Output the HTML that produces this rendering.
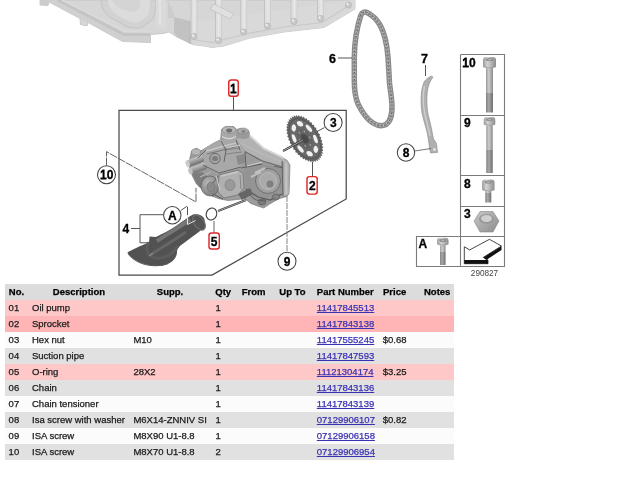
<!DOCTYPE html>
<html><head><meta charset="utf-8"><style>
*{margin:0;padding:0;box-sizing:border-box}
html,body{width:640px;height:480px;background:#fff;overflow:hidden}
body{will-change:transform}
body{position:relative;font-family:"Liberation Sans",sans-serif;font-size:9.5px;color:#1a1a1a;-webkit-text-stroke:0.25px currentColor}
#dg{position:absolute;left:0;top:0}
#dg text{stroke:#000;stroke-width:0.3px}
#dg text.nt{stroke:none}
.r{position:absolute;left:5px;width:449px;height:16px;line-height:16px;white-space:nowrap}
.r span{position:absolute;top:0}
.h{font-weight:bold;color:#000}
.p1{background:#ffc8c8}.p2{background:#ffb5b5}.w{background:#fbfbfb}.g{background:#e1e1e1}.hd{background:#dcdcdc}
a{color:#3a32b4;text-decoration:underline}
.c1{left:3.6px}.c2{left:27px}.c3{left:128.4px}.c4{left:210.5px}.c7{left:311.8px}.c8{left:377.8px}
</style></head><body>
<svg id="dg" width="640" height="282" viewBox="0 0 640 282">
<defs>
<linearGradient id="panG" x1="0" y1="0" x2="0" y2="1"><stop offset="0" stop-color="#d2d2d2"/><stop offset="1" stop-color="#dadada"/></linearGradient>
<linearGradient id="pipeG" x1="0" y1="0" x2="1" y2="1"><stop offset="0" stop-color="#6a6a6a"/><stop offset="0.5" stop-color="#4e4e4e"/><stop offset="1" stop-color="#3c3c3c"/></linearGradient>
<linearGradient id="bodyG" x1="0" y1="0" x2="1" y2="1"><stop offset="0" stop-color="#a8a8a8"/><stop offset="0.5" stop-color="#8a8a8a"/><stop offset="1" stop-color="#6e6e6e"/></linearGradient>
<linearGradient id="boltG" x1="0" y1="0" x2="1" y2="0"><stop offset="0" stop-color="#9a9a9a"/><stop offset="0.4" stop-color="#cecece"/><stop offset="1" stop-color="#8a8a8a"/></linearGradient>
<linearGradient id="thrG" x1="0" y1="0" x2="1" y2="0"><stop offset="0" stop-color="#808080"/><stop offset="0.4" stop-color="#a8a8a8"/><stop offset="1" stop-color="#6e6e6e"/></linearGradient>
<linearGradient id="headG" x1="0" y1="0" x2="1" y2="0"><stop offset="0" stop-color="#9c9c9c"/><stop offset="0.35" stop-color="#d4d4d4"/><stop offset="1" stop-color="#8c8c8c"/></linearGradient>
<linearGradient id="nutG" x1="0" y1="0" x2="1" y2="1"><stop offset="0" stop-color="#c8c8c8"/><stop offset="1" stop-color="#8c8c8c"/></linearGradient>
</defs>
<!-- oil pan -->
<g id="pan">
<path d="M40,0 L40,5 L48,5.5 L49,2 L80,18.5 L80.5,24.5 L87,26 L88,22.5 L122.5,41.5 L150.5,42.5 L150.5,34.5 L163,33.5 L169,32 L177,37 L193,44.7 L204,46 L212,47.5 L224,46 L250,38 L284,32 L324,27.5 L355,9 L355,0 Z" fill="#d6d6d6" stroke="#c0c0c0" stroke-width="0.8"/>
<path d="M49,2 L80,18.5 L88,22.5 L122.5,41.5 L150.5,42.5 L150.5,35 L126,35 L60,0 Z" fill="#d0d0d0"/>
<path d="M58,0 L124,34.5 L150,34.5" fill="none" stroke="#c4c4c4" stroke-width="3"/>
<path d="M62,0 L124,31 L150,31" fill="none" stroke="#dadada" stroke-width="1.5"/>
<path d="M101,0 C101,9 106,15 113,19 L126,26 C131,28.5 139,29 144,26 L152,20 C155,16 156,8 156,0 Z" fill="#d2d2d2" stroke="#c4c4c4" stroke-width="1"/>
<path d="M108,0 C108,7 112,12 118,15.5 L128,21 C133,23 138,23 142,20.5 L147,16 C150,12 150,6 150,0 Z" fill="#dcdcdc"/>
<path d="M112,0 C114,5 118,8 124,10 L132,12 C136,12 139,9 140,5 L140,0 Z" fill="#d4d4d4"/>
<path d="M156,0 L156,28 L162,30 L166,26 L166,0 Z" fill="#dadada"/>
<path d="M160,0 L160,24" stroke="#e6e6e6" stroke-width="1.5"/>
<path d="M168,0 L174,14 L174,18 L168,18 Z" fill="#cccccc"/>
<path d="M174,17 L190,21 L191,44 L177,37 L174,33 Z" fill="#c2c2c2"/>
<path d="M190,21 L190,44" stroke="#b8b8b8" stroke-width="1"/>
<path d="M192,22 L352,0 L355,0 L355,9 L324,27.5 L284,32 L250,38 L224,46 L212,47.5 L204,46 L193,44.7 Z" fill="#d9d9d9"/>
<path d="M193,39.5 L212,42.5 L250,33 L284,27 L322,22.5 L350,5" fill="none" stroke="#c8c8c8" stroke-width="1.2"/>
<rect x="191" y="0" width="6" height="36" fill="#dfdfdf"/>
<path d="M191,0 L191,36" stroke="#c2c2c2" stroke-width="1"/>
<path d="M197,0 L197,36" stroke="#cbcbcb" stroke-width="0.8"/>
<path d="M194.3,0 L194.3,36" stroke="#e9e9e9" stroke-width="1.2"/>
<rect x="215.5" y="0" width="6" height="40" fill="#dfdfdf"/>
<path d="M215.5,0 L215.5,40" stroke="#c2c2c2" stroke-width="1"/>
<path d="M221.5,0 L221.5,40" stroke="#cbcbcb" stroke-width="0.8"/>
<path d="M218.8,0 L218.8,40" stroke="#e9e9e9" stroke-width="1.2"/>
<rect x="240.7" y="0" width="6" height="32" fill="#dfdfdf"/>
<path d="M240.7,0 L240.7,32" stroke="#c2c2c2" stroke-width="1"/>
<path d="M246.7,0 L246.7,32" stroke="#cbcbcb" stroke-width="0.8"/>
<path d="M244.0,0 L244.0,32" stroke="#e9e9e9" stroke-width="1.2"/>
<rect x="264.5" y="0" width="6" height="26" fill="#dfdfdf"/>
<path d="M264.5,0 L264.5,26" stroke="#c2c2c2" stroke-width="1"/>
<path d="M270.5,0 L270.5,26" stroke="#cbcbcb" stroke-width="0.8"/>
<path d="M267.8,0 L267.8,26" stroke="#e9e9e9" stroke-width="1.2"/>
<rect x="291" y="0" width="6" height="21.5" fill="#dfdfdf"/>
<path d="M291,0 L291,21.5" stroke="#c2c2c2" stroke-width="1"/>
<path d="M297,0 L297,21.5" stroke="#cbcbcb" stroke-width="0.8"/>
<path d="M294.3,0 L294.3,21.5" stroke="#e9e9e9" stroke-width="1.2"/>
<rect x="317.5" y="0" width="6" height="19" fill="#dfdfdf"/>
<path d="M317.5,0 L317.5,19" stroke="#c2c2c2" stroke-width="1"/>
<path d="M323.5,0 L323.5,19" stroke="#cbcbcb" stroke-width="0.8"/>
<path d="M320.8,0 L320.8,19" stroke="#e9e9e9" stroke-width="1.2"/>
<g fill="#cacaca" stroke="#b4b4b4" stroke-width="0.8"><circle cx="194" cy="36.5" r="3"/><circle cx="218.5" cy="40.5" r="3"/><circle cx="243.7" cy="32" r="3"/><circle cx="267.5" cy="26" r="3"/><circle cx="294" cy="21.5" r="3"/><circle cx="320.5" cy="18.5" r="3"/><circle cx="348.5" cy="5" r="3"/></g>
<g fill="#ececec"><circle cx="193" cy="35.5" r="1.2"/><circle cx="217.5" cy="39.5" r="1.2"/><circle cx="242.7" cy="31" r="1.2"/><circle cx="266.5" cy="25" r="1.2"/><circle cx="293" cy="20.5" r="1.2"/><circle cx="319.5" cy="17.5" r="1.2"/><circle cx="347.5" cy="4" r="1.2"/></g>
<path d="M210,9 L230,19 L234,14 L214,4 Z" fill="#e0e0e0" stroke="#c0c0c0" stroke-width="0.8"/>
<path d="M40,0 L40,5 L48,5.5 L49,0 Z" fill="#cccccc"/>
</g>
<!-- chain -->
<path d="M360.8,15.4 C362,12 365,11.5 367,12.5 C372,15 377,20 380,25 C384,32 387,45 388,57 L389.5,83 C390.5,92 392,100 392,106 C392,115 391,121 386,124.5 C382,126.5 377,125.5 373,123 C368,120 362,112 358,104 C355,97 354.3,88 354.3,80 L354.3,57 C354.5,45 356,30 360.8,15.4 Z" fill="none" stroke="#8a8a8a" stroke-width="5.5"/>
<path d="M360.8,15.4 C362,12 365,11.5 367,12.5 C372,15 377,20 380,25 C384,32 387,45 388,57 L389.5,83 C390.5,92 392,100 392,106 C392,115 391,121 386,124.5 C382,126.5 377,125.5 373,123 C368,120 362,112 358,104 C355,97 354.3,88 354.3,80 L354.3,57 C354.5,45 356,30 360.8,15.4 Z" fill="none" stroke="#b8b8b8" stroke-width="3" stroke-dasharray="2 1.6"/>
<path d="M360.8,15.4 C362,12 365,11.5 367,12.5 C372,15 377,20 380,25 C384,32 387,45 388,57 L389.5,83 C390.5,92 392,100 392,106 C392,115 391,121 386,124.5 C382,126.5 377,125.5 373,123 C368,120 362,112 358,104 C355,97 354.3,88 354.3,80 L354.3,57 C354.5,45 356,30 360.8,15.4 Z" fill="none" stroke="#555" stroke-width="1.2" stroke-dasharray="1 2.6"/>
<!-- label 6 -->
<text x="329" y="62.5" font-family="Liberation Sans" font-weight="bold" font-size="12.5" fill="#000">6</text>
<path d="M338,58 L352,58" stroke="#555" stroke-width="1"/>
<!-- tensioner 7 -->
<text x="421" y="63" font-family="Liberation Sans" font-weight="bold" font-size="12.5" fill="#000">7</text>
<path d="M425.5,65 L425.5,76" stroke="#555" stroke-width="1"/>
<path d="M424,82 C426,79 429,77 431.3,76.2 L433,77 C430,81 428.5,85 427.5,90 C426.8,95 426.8,101 427,106 C427.5,112 428.5,117 430,122 C431.5,128 432.5,134 433.5,139 L436.5,143.5 L437.5,152.5 L430.5,153 L429.5,148 C428.8,142 428,137 427,132 C425.5,126 423.5,120 422,113 C420.8,106 420.8,98 421.5,92 C422,88 423,85 424,82 Z" fill="#b0b0b0" stroke="#888" stroke-width="0.6"/>
<path d="M424.5,86 C423,94 423,104 424.5,112 C426,120 428.5,128 430,136" fill="none" stroke="#cdcdcd" stroke-width="1.4"/>
<circle cx="434.5" cy="149.5" r="1.3" fill="#eee"/>
<!-- circle 8 -->
<circle cx="406" cy="152.5" r="8.7" fill="#fff" stroke="#444" stroke-width="1.05"/>
<text x="406" y="156.8" text-anchor="middle" font-family="Liberation Sans" font-weight="bold" font-size="12" fill="#000">8</text>
<path d="M414.6,151 L431,148.5" stroke="#555" stroke-width="0.8"/>
<!-- right panel -->
<g fill="none" stroke="#7a7a7a" stroke-width="1.1">
<path d="M460.5,54.5 L504.5,54.5 L504.5,266.5 L416.5,266.5 L416.5,236.5 L504.5,236.5"/>
<path d="M460.5,54.5 L460.5,266.5"/>
<path d="M460.5,115.5 L504.5,115.5"/>
<path d="M460.5,175.5 L504.5,175.5"/>
<path d="M460.5,206.5 L504.5,206.5"/>
</g>
<g font-family="Liberation Sans" font-weight="bold" font-size="12" fill="#000">
<text x="462.3" y="66.5"><tspan font-weight="normal" stroke="#000" stroke-width="0.9">1</tspan>0</text>
<text x="464" y="127">9</text>
<text x="464" y="188">8</text>
<text x="464" y="218">3</text>
<text x="418.5" y="247.8">A</text>
</g>
<!-- screw 10 -->
<rect x="486.0" y="68" width="7" height="25" fill="url(#boltG)"/>
<rect x="486.0" y="93" width="7" height="19.5" fill="url(#thrG)"/>
<path d="M483.0,67 L483.0,60 Q483.0,57 486.0,57 L493.0,57 Q496.0,57 496.0,60 L496.0,67 Q489.5,70.5 483.0,67 Z" fill="url(#headG)"/>
<ellipse cx="489.5" cy="59.6" rx="3.9" ry="1.7" fill="#8e8e8e"/>
<ellipse cx="489.5" cy="59.6" rx="1.95" ry="0.9" fill="#b0b0b0"/>
<path d="M483.5,66.5 Q489.5,69.5 495.5,66.5" fill="none" stroke="#9a9a9a" stroke-width="0.8"/>
<!-- screw 9 -->
<rect x="486.25" y="125.5" width="6.5" height="24.5" fill="url(#boltG)"/>
<rect x="486.25" y="150" width="6.5" height="23" fill="url(#thrG)"/>
<path d="M483.75,124.5 L483.75,120 Q483.75,117 486.75,117 L492.25,117 Q495.25,117 495.25,120 L495.25,124.5 Q489.5,128.0 483.75,124.5 Z" fill="url(#headG)"/>
<ellipse cx="489.5" cy="119.6" rx="3.4499999999999997" ry="1.7" fill="#8e8e8e"/>
<ellipse cx="489.5" cy="119.6" rx="1.7249999999999999" ry="0.9" fill="#b0b0b0"/>
<path d="M484.25,124.0 Q489.5,127.0 494.75,124.0" fill="none" stroke="#9a9a9a" stroke-width="0.8"/>
<!-- screw 8 -->
<rect x="485.3" y="191.0" width="6" height="2.0" fill="url(#boltG)"/>
<rect x="485.3" y="193" width="6" height="9.5" fill="url(#thrG)"/>
<path d="M482.05,190.0 L482.05,182.5 Q482.05,179.5 485.05,179.5 L491.55,179.5 Q494.55,179.5 494.55,182.5 L494.55,190.0 Q488.3,193.5 482.05,190.0 Z" fill="url(#headG)"/>
<ellipse cx="488.3" cy="182.1" rx="3.75" ry="1.7" fill="#8e8e8e"/>
<ellipse cx="488.3" cy="182.1" rx="1.875" ry="0.9" fill="#b0b0b0"/>
<path d="M482.55,189.5 Q488.3,192.5 494.05,189.5" fill="none" stroke="#9a9a9a" stroke-width="0.8"/>
<!-- nut 3 -->
<path d="M474,221 L480,211.5 L493,211.5 L499,221 L493,232 L480,232 Z" fill="url(#nutG)" stroke="#888" stroke-width="0.6"/>
<ellipse cx="486.5" cy="219" rx="7.5" ry="5" fill="#9a9a9a"/>
<ellipse cx="486.5" cy="218.5" rx="5.5" ry="3.5" fill="#cfcfcf"/>
<!-- screw A -->
<rect x="440.05" y="245.3" width="5.5" height="6.699999999999989" fill="url(#boltG)"/>
<rect x="440.05" y="252" width="5.5" height="13" fill="url(#thrG)"/>
<path d="M437.05,244.3 L437.05,240.8 Q437.05,237.8 440.05,237.8 L445.55,237.8 Q448.55,237.8 448.55,240.8 L448.55,244.3 Q442.8,247.8 437.05,244.3 Z" fill="url(#headG)"/>
<ellipse cx="442.8" cy="240.4" rx="3.4499999999999997" ry="1.7" fill="#8e8e8e"/>
<ellipse cx="442.8" cy="240.4" rx="1.7249999999999999" ry="0.9" fill="#b0b0b0"/>
<path d="M437.55,243.8 Q442.8,246.8 448.05,243.8" fill="none" stroke="#9a9a9a" stroke-width="0.8"/>
<!-- arrow symbol -->
<path d="M464.3,246.8 L469.7,249.9 L489.5,239.3 L501.4,246 L483.5,257.3 L488,260.1 L488,263.7 L464.3,263.7 Z" fill="#fff" stroke="#333" stroke-width="0.9"/>
<path d="M483.3,257.4 L501.5,246.2 L501.5,250 L486.3,259.9 Z" fill="#111"/>
<path d="M464.3,260 L488,260 L488,263.8 L464.3,263.8 Z" fill="#111"/>
<text class="nt" x="484.5" y="276" text-anchor="middle" font-family="Liberation Sans" font-size="8.2" fill="#444">290827</text>
<!-- main box -->
<path d="M119,110.3 L346.2,110.3 L346.2,199 L212,275.1 L119,275.1 Z" fill="none" stroke="#4a4a4a" stroke-width="1.25"/>
<!-- pump -->
<g id="pump">
<defs>
<linearGradient id="cylG" x1="0" y1="0" x2="0" y2="1"><stop offset="0" stop-color="#c4c4c4"/><stop offset="0.5" stop-color="#9c9c9c"/><stop offset="1" stop-color="#6e6e6e"/></linearGradient>
<linearGradient id="flG" x1="0" y1="0" x2="1" y2="0"><stop offset="0" stop-color="#8a8a8a"/><stop offset="0.5" stop-color="#c8c8c8"/><stop offset="1" stop-color="#9a9a9a"/></linearGradient>
<radialGradient id="hsG" cx="0.4" cy="0.35" r="0.7"><stop offset="0" stop-color="#b8b8b8"/><stop offset="1" stop-color="#7c7c7c"/></radialGradient>
</defs>
<path d="M221.5,129.4 L225.3,126.6 L233.7,126.6 L236.5,129.4 L241.2,128.4 L248.7,131.2 L249.7,136.9 L263.7,148.1 L282.5,157.5 L287.1,160.3 L290,165 L289,194 L286.2,196.8 L278.7,198.7 L269.3,204.3 L263.7,208 L258,206.2 L250.6,203.4 L245,198.7 L228.1,200.6 L218.7,198.7 L209.4,195 L203.7,189.3 L196.2,183.7 L192.5,176.2 L189.7,168.7 L188.7,163.1 L191.6,150.9 L196.2,148.1 L200.9,150.9 L205.6,148.1 L213.1,143.4 L220.6,139.7 Z" fill="#9c9c9c" stroke="#707070" stroke-width="0.6"/>
<!-- top face -->
<path d="M236,139 L249,134 L264,148 L283,157 L289,163 L283,167 L262,160 L246,152 Z" fill="#b2b2b2"/>
<path d="M249,135 L264,148.5 L284,158" fill="none" stroke="#d8d8d8" stroke-width="1.8"/>
<path d="M241,143 L260,153 L282,162" fill="none" stroke="#bdbdbd" stroke-width="1"/>
<path d="M244,151 L262,161 L283,167" fill="none" stroke="#6e6e6e" stroke-width="1.2"/>
<!-- left top block -->
<path d="M205,148 L213,143.5 L221,139.5 L236,139 L245,151 L241,168 L218,174 L203,166 L198,158 Z" fill="#a8a8a8"/>
<path d="M206,151 L236,143" fill="none" stroke="#c6c6c6" stroke-width="1.6"/>
<path d="M207,154 L237,146.5" fill="none" stroke="#707070" stroke-width="0.9"/>
<path d="M224,150 L240,148 M226,154 L242,152" fill="none" stroke="#7a7a7a" stroke-width="0.8"/>
<circle cx="215" cy="158.5" r="5.2" fill="#a6a6a6" stroke="#6a6a6a" stroke-width="1"/>
<ellipse cx="215" cy="158.5" rx="3" ry="2.6" fill="#7c7c7c"/>
<path d="M236,156 L244,154 L246,162 L238,165 Z" fill="#8a8a8a"/>
<!-- top bosses -->
<path d="M221.5,130 C222,126 236,125 236.5,130 L236.5,137 C233,140 224,140 221.5,137 Z" fill="#a8a8a8"/>
<ellipse cx="229" cy="130" rx="7" ry="3.6" fill="#b8b8b8" stroke="#848484" stroke-width="0.6"/>
<ellipse cx="229.2" cy="130.6" rx="3" ry="2" fill="#6e6e6e"/>
<path d="M236.5,131 C238,127 248,128 249.5,132 L249.5,137 C246,140 239,139 236.5,137 Z" fill="#9a9a9a"/>
<ellipse cx="243" cy="131" rx="5.5" ry="3" fill="#acacac" stroke="#7c7c7c" stroke-width="0.5"/>
<ellipse cx="243.5" cy="131.5" rx="2.2" ry="1.4" fill="#858585"/>
<path d="M222,136.5 C226,139.5 232,139.5 236,136.5" fill="none" stroke="#d6d6d6" stroke-width="1.5"/>
<!-- left cylinders -->
<g transform="rotate(-20 197 163)">
<rect x="187" y="157" width="18" height="7" rx="2.5" fill="url(#cylG)"/>
<rect x="187" y="165" width="18" height="7" rx="2.5" fill="url(#cylG)"/>
<ellipse cx="188" cy="160.5" rx="2" ry="3.5" fill="#cacaca"/>
<ellipse cx="188" cy="168.5" rx="2" ry="3.5" fill="#c0c0c0"/>
</g>
<ellipse cx="196" cy="152" rx="4.5" ry="3.2" fill="#b6b6b6" stroke="#787878" stroke-width="0.5"/>
<!-- lower left housing -->
<path d="M192,174 L202,172 L214,182 L214,197 L207,194 L198,186 Z" fill="#7c7c7c"/>
<ellipse cx="210" cy="186" rx="9" ry="10" fill="url(#hsG)" stroke="#5e5e5e" stroke-width="0.7"/>
<ellipse cx="211" cy="187" rx="4" ry="5" fill="#8a8a8a" stroke="#666" stroke-width="0.5"/>
<path d="M200,177 L211,172" stroke="#b4b4b4" stroke-width="1.2"/>
<!-- central block -->
<path d="M219,175 L238,170 L243,173 L244,188 L238,195 L224,198 L218,192 Z" fill="#b0b0b0" stroke="#6c6c6c" stroke-width="0.7"/>
<path d="M221,176 L238,172" stroke="#c8c8c8" stroke-width="1.4"/>
<path d="M240,175 L241,189" stroke="#7a7a7a" stroke-width="0.8"/>
<ellipse cx="230" cy="185" rx="5" ry="5.5" fill="#999" stroke="#707070" stroke-width="0.5"/>
<!-- right gear housing -->
<path d="M244,168 L262,164 L282,168 L283,194 L270,203 L252,200 L245,190 Z" fill="#949494"/>
<circle cx="268" cy="181" r="12.5" fill="#a0a0a0" stroke="#646464" stroke-width="0.8"/>
<circle cx="268" cy="181" r="8.5" fill="#aaaaaa" stroke="#bababa" stroke-width="1"/>
<path d="M255,173 L265,168" stroke="#c4c4c4" stroke-width="2"/>
<path d="M251,177 L261,172" stroke="#c0c0c0" stroke-width="2"/>
<ellipse cx="270" cy="184" rx="3.5" ry="3.5" fill="#808080"/>
<!-- right flange -->
<path d="M282,161 L290,165 L289,194 L283,196 Z" fill="url(#flG)"/>
<path d="M282,161 L283,196" stroke="#5e5e5e" stroke-width="0.9"/>
<!-- bottom crevices -->
<path d="M246,189 L258,197 L270,200 L282,194" fill="none" stroke="#5a5a5a" stroke-width="1.2"/>
<ellipse cx="262" cy="202" rx="4" ry="3" fill="#7a7a7a" stroke="#555" stroke-width="0.6"/>
<ellipse cx="276" cy="197" rx="3.5" ry="3" fill="#848484" stroke="#555" stroke-width="0.6"/>
<path d="M238,194 L250,188 L253,194 L242,200 Z" fill="#666"/>
<path d="M213,194 L223,199" stroke="#5c5c5c" stroke-width="1"/>
<path d="M241,168 L262,164" stroke="#5e5e5e" stroke-width="1"/>
<g fill="none" stroke="#5c5c5c" stroke-width="0.9">
<path d="M203,165 L219,173 L241,167"/>
<path d="M221,141 L226,150 L224,162"/>
<path d="M236,140 L240,150"/>
<path d="M245,152 L246,167"/>
<path d="M198,158 L206,150"/>
<path d="M213,183 L218,176"/>
<path d="M283,168 L274,166"/>
<path d="M250,195 L256,200 L266,201"/>
</g>
<g fill="none" stroke="#d0d0d0" stroke-width="1">
<path d="M227,148 L240,145"/>
<path d="M247,166 L262,162"/>
<path d="M216,176 L220,190"/>
</g>
</g>

<!-- red label 1 -->
<rect x="228.75" y="80" width="9.5" height="16.3" rx="2.5" fill="#fff" stroke="#dd2828" stroke-width="1.45"/>
<text x="233.4" y="92.5" text-anchor="middle" font-family="Liberation Sans" font-weight="bold" font-size="12" fill="#000"><tspan font-weight="normal" stroke="#000" stroke-width="0.9">1</tspan></text>
<path d="M233.5,97 L233.5,110" stroke="#555" stroke-width="1"/>
<!-- sprocket -->
<g transform="translate(304.8 138.7) rotate(-30) scale(0.596 1)">
<path d="M26.00,0.00 L23.94,1.71 L25.74,3.70 L23.45,5.10 L24.95,7.33 L22.49,8.39 L23.65,10.80 L21.06,11.50 L21.87,14.06 L19.21,14.38 L19.65,17.03 L16.97,16.97 L17.03,19.65 L14.38,19.21 L14.06,21.87 L11.50,21.06 L10.80,23.65 L8.39,22.49 L7.33,24.95 L5.10,23.45 L3.70,25.74 L1.71,23.94 L0.00,26.00 L-1.71,23.94 L-3.70,25.74 L-5.10,23.45 L-7.33,24.95 L-8.39,22.49 L-10.80,23.65 L-11.50,21.06 L-14.06,21.87 L-14.38,19.21 L-17.03,19.65 L-16.97,16.97 L-19.65,17.03 L-19.21,14.38 L-21.87,14.06 L-21.06,11.50 L-23.65,10.80 L-22.49,8.39 L-24.95,7.33 L-23.45,5.10 L-25.74,3.70 L-23.94,1.71 L-26.00,0.00 L-23.94,-1.71 L-25.74,-3.70 L-23.45,-5.10 L-24.95,-7.33 L-22.49,-8.39 L-23.65,-10.80 L-21.06,-11.50 L-21.87,-14.06 L-19.21,-14.38 L-19.65,-17.03 L-16.97,-16.97 L-17.03,-19.65 L-14.38,-19.21 L-14.06,-21.87 L-11.50,-21.06 L-10.80,-23.65 L-8.39,-22.49 L-7.33,-24.95 L-5.10,-23.45 L-3.70,-25.74 L-1.71,-23.94 L-0.00,-26.00 L1.71,-23.94 L3.70,-25.74 L5.10,-23.45 L7.33,-24.95 L8.39,-22.49 L10.80,-23.65 L11.50,-21.06 L14.06,-21.87 L14.38,-19.21 L17.03,-19.65 L16.97,-16.97 L19.65,-17.03 L19.21,-14.38 L21.87,-14.06 L21.06,-11.50 L23.65,-10.80 L22.49,-8.39 L24.95,-7.33 L23.45,-5.10 L25.74,-3.70 L23.94,-1.71 Z" fill="#606060"/>
<circle r="23.2" fill="#6a6a6a"/>
<circle r="21.8" fill="none" stroke="#555" stroke-width="1.2"/>
<ellipse cx="15.32" cy="5.57" rx="2.9" ry="4.6" transform="rotate(20 15.32 5.57)" fill="#f0f0f0"/>
<ellipse cx="6.89" cy="14.77" rx="2.9" ry="4.6" transform="rotate(65 6.89 14.77)" fill="#f0f0f0"/>
<ellipse cx="-5.57" cy="15.32" rx="2.9" ry="4.6" transform="rotate(110 -5.57 15.32)" fill="#f0f0f0"/>
<ellipse cx="-14.77" cy="6.89" rx="2.9" ry="4.6" transform="rotate(155 -14.77 6.89)" fill="#f0f0f0"/>
<ellipse cx="-15.32" cy="-5.57" rx="2.9" ry="4.6" transform="rotate(200 -15.32 -5.57)" fill="#f0f0f0"/>
<ellipse cx="-6.89" cy="-14.77" rx="2.9" ry="4.6" transform="rotate(245 -6.89 -14.77)" fill="#f0f0f0"/>
<ellipse cx="5.57" cy="-15.32" rx="2.9" ry="4.6" transform="rotate(290 5.57 -15.32)" fill="#f0f0f0"/>
<ellipse cx="14.77" cy="-6.89" rx="2.9" ry="4.6" transform="rotate(335 14.77 -6.89)" fill="#f0f0f0"/>
<circle r="11" fill="#626262"/>
<circle cx="8.37" cy="1.48" r="1.3" fill="#9a9a9a"/>
<circle cx="2.91" cy="7.99" r="1.3" fill="#9a9a9a"/>
<circle cx="-5.46" cy="6.51" r="1.3" fill="#9a9a9a"/>
<circle cx="-8.37" cy="-1.48" r="1.3" fill="#9a9a9a"/>
<circle cx="-2.91" cy="-7.99" r="1.3" fill="#9a9a9a"/>
<circle cx="5.46" cy="-6.51" r="1.3" fill="#9a9a9a"/>
<circle r="5" fill="#4a4a4a"/>
</g>
<!-- shaft line to sprocket -->
<path d="M283,151 L303,140" stroke="#333" stroke-width="2.2"/>
<path d="M283,151 L303,140" stroke="#ddd" stroke-width="0.7"/>
<!-- circle 3 -->
<path d="M324.5,127.5 L318,131" stroke="#444" stroke-width="0.9"/>
<circle cx="333.1" cy="122.5" r="9" fill="#fff" stroke="#444" stroke-width="1.05"/>
<text x="333.3" y="126.8" text-anchor="middle" font-family="Liberation Sans" font-weight="bold" font-size="12" fill="#000">3</text>
<!-- red label 2 -->
<path d="M312.5,162 L312.5,176" stroke="#555" stroke-width="1"/>
<rect x="307" y="176.6" width="10.2" height="17.5" rx="2.5" fill="#fff" stroke="#dd2828" stroke-width="1.45"/>
<text x="312.4" y="190" text-anchor="middle" font-family="Liberation Sans" font-weight="bold" font-size="12" fill="#000">2</text>
<!-- label 9 -->
<path d="M287,196 L287,252" stroke="#777" stroke-width="0.9" stroke-dasharray="6 1"/>
<circle cx="287" cy="261.3" r="9" fill="#fff" stroke="#444" stroke-width="1.05"/>
<text x="287" y="265.6" text-anchor="middle" font-family="Liberation Sans" font-weight="bold" font-size="12" fill="#000">9</text>
<!-- label 10 -->
<path d="M106.5,165.5 L106.5,151.6 L196,202 L196,188" fill="none" stroke="#555" stroke-width="0.9" stroke-dasharray="8 1"/>
<circle cx="106.5" cy="174.7" r="9" fill="#fff" stroke="#444" stroke-width="1.05"/>
<text x="106.7" y="179" text-anchor="middle" font-family="Liberation Sans" font-weight="bold" font-size="12" fill="#000"><tspan font-weight="normal" stroke="#000" stroke-width="0.9">1</tspan>0</text>
<!-- label 4 bracket -->
<text x="122.5" y="232.8" font-family="Liberation Sans" font-weight="bold" font-size="12" fill="#000">4</text>
<path d="M131,228.5 L140,228.5 M140,214.7 L140,242.8 M140,214.7 L163.5,214.7 M140,242.8 L151,242.8" fill="none" stroke="#444" stroke-width="0.9"/>
<!-- circle A -->
<circle cx="172.3" cy="215.2" r="8.7" fill="#fff" stroke="#444" stroke-width="1.05"/>
<text x="172.3" y="219.5" text-anchor="middle" font-family="Liberation Sans" font-weight="bold" font-size="12" fill="#000">A</text>
<!-- suction pipe -->
<path d="M127.5,252.5 C131,250 140,246 149,242.5 L149.5,236.5 L156,237 C162,234 170,230 176,226 C182,222 188,217 193,214.5 C197,213.5 202,214.5 204,218 C206,222 204,228 200,231 C195,235 189,239 184,243 C180,246 177,248 177,252 C177,258 172,263 165,265 C158,267 149,265.5 143,263.5 C136,261 130,257 127.5,252.5 Z" fill="#525252"/>
<path d="M149,242.5 C146,246 146,252 150,256 C156,260 166,258 172,253 C176,249 177,247 178,246" fill="none" stroke="#5c5c5c" stroke-width="3"/>
<path d="M157,241 C166,235 178,228 190,219.5" fill="none" stroke="#767676" stroke-width="4"/>
<path d="M150,255 C158,250 170,243 186,232" fill="none" stroke="#666" stroke-width="3"/>
<path d="M149,256 L153,253.5" stroke="#999" stroke-width="1"/>
<ellipse cx="199" cy="222.5" rx="5" ry="8.5" transform="rotate(-35 199 222.5)" fill="#555" stroke="#6e6e6e" stroke-width="1.2"/>
<path d="M128,253 C131,258 137,262 145,264.5 C152,266 162,266 168,263.5" fill="none" stroke="#5a5a5a" stroke-width="1.2"/>
<path d="M180.8,210.5 L186.5,206.5 L187.5,207 L187.5,215.5" fill="none" stroke="#444" stroke-width="0.9"/>
<path d="M187.5,215 L187.5,224.5 L195.5,220.5" fill="none" stroke="#f0f0f0" stroke-width="0.9"/>
<!-- o-ring -->
<ellipse cx="211.5" cy="214" rx="5.2" ry="6.1" transform="rotate(20 211.5 214)" fill="none" stroke="#3a3a3a" stroke-width="1.1"/>
<!-- red label 5 -->
<path d="M214,221 L214,233" stroke="#666" stroke-width="1"/>
<rect x="209" y="233" width="10.3" height="16" rx="2.5" fill="#fff" stroke="#dd2828" stroke-width="1.45"/>
<text x="214.1" y="245.8" text-anchor="middle" font-family="Liberation Sans" font-weight="bold" font-size="12" fill="#000">5</text>
<!-- dashed line oring to pump -->
<path d="M218,211 L246,200" stroke="#333" stroke-width="2"/>
<path d="M218,211 L246,200" stroke="#eee" stroke-width="0.6"/>

</svg>

<div class="r hd h" style="top:284px"><span style="left:3.8px">No.</span><span style="left:47.8px">Description</span><span style="left:151.8px">Supp.</span><span style="left:210.3px">Qty</span><span style="left:236.8px">From</span><span style="left:274.3px">Up To</span><span style="left:311.8px">Part Number</span><span style="left:378px">Price</span><span style="left:419px">Notes</span></div>
<div class="r p1" style="top:300px"><span class="c1">01</span><span class="c2">Oil pump</span><span class="c4">1</span><span class="c7"><a>11417845513</a></span></div>
<div class="r p2" style="top:316px"><span class="c1">02</span><span class="c2">Sprocket</span><span class="c4">1</span><span class="c7"><a>11417843138</a></span></div>
<div class="r w" style="top:332px"><span class="c1">03</span><span class="c2">Hex nut</span><span class="c3">M10</span><span class="c4">1</span><span class="c7"><a>11417555245</a></span><span class="c8">$0.68</span></div>
<div class="r g" style="top:348px"><span class="c1">04</span><span class="c2">Suction pipe</span><span class="c4">1</span><span class="c7"><a>11417847593</a></span></div>
<div class="r p1" style="top:364px"><span class="c1">05</span><span class="c2">O-ring</span><span class="c3">28X2</span><span class="c4">1</span><span class="c7"><a>11121304174</a></span><span class="c8">$3.25</span></div>
<div class="r g" style="top:380px"><span class="c1">06</span><span class="c2">Chain</span><span class="c4">1</span><span class="c7"><a>11417843136</a></span></div>
<div class="r w" style="top:396px"><span class="c1">07</span><span class="c2">Chain tensioner</span><span class="c4">1</span><span class="c7"><a>11417843139</a></span></div>
<div class="r g" style="top:412px"><span class="c1">08</span><span class="c2">Isa screw with washer</span><span class="c3">M6X14-ZNNIV SI</span><span class="c4">1</span><span class="c7"><a>07129906107</a></span><span class="c8">$0.82</span></div>
<div class="r w" style="top:428px"><span class="c1">09</span><span class="c2">ISA screw</span><span class="c3">M8X90 U1-8.8</span><span class="c4">1</span><span class="c7"><a>07129906158</a></span></div>
<div class="r g" style="top:444px"><span class="c1">10</span><span class="c2">ISA screw</span><span class="c3">M8X70 U1-8.8</span><span class="c4">2</span><span class="c7"><a>07129906954</a></span></div>
</body></html>
